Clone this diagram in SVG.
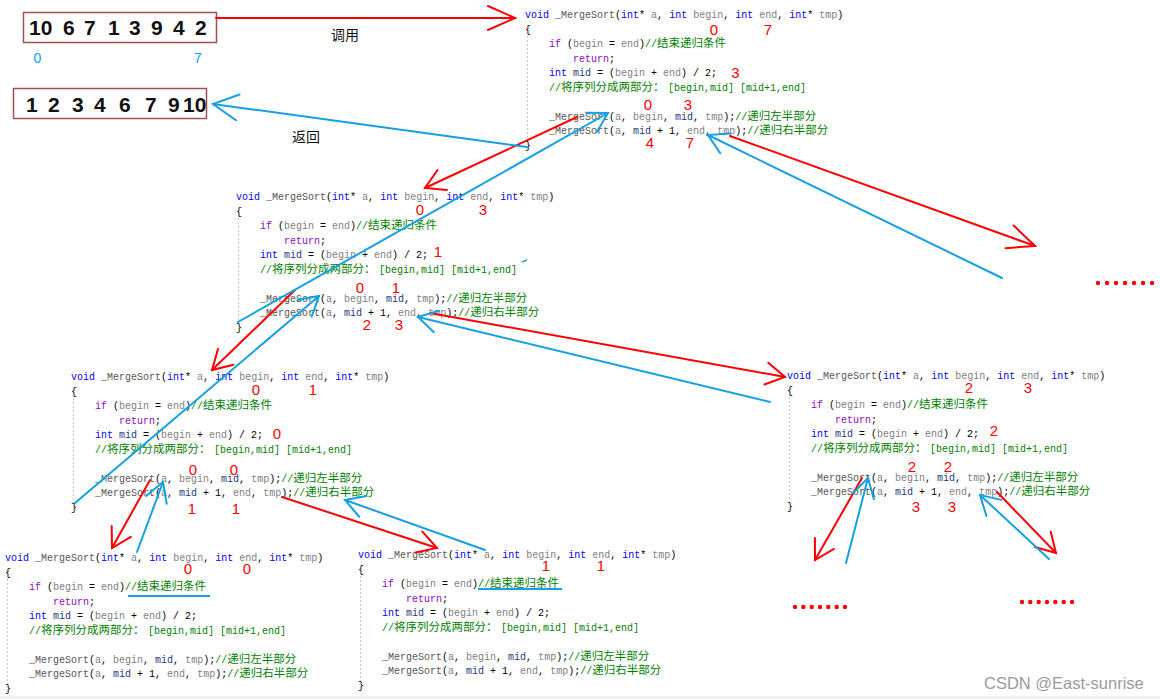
<svg xmlns="http://www.w3.org/2000/svg" width="1160" height="699" viewBox="0 0 1160 699">
<style>
.code{font-family:"Liberation Mono","Noto Sans CJK SC",monospace;font-size:10px;fill:#000}
.kw{fill:#0000ff}
.fn{fill:#555555}
.pm{fill:#808080}
.ctl{fill:#8f08c4}
.vr{fill:#1f377f}
.cm{fill:#008000}
.cj{font-family:"Noto Sans CJK SC",sans-serif;font-size:11.5px}
.num{font-family:"Liberation Sans",sans-serif;font-size:15px;fill:#ff0000;text-anchor:middle}
.guide{stroke:#c8c8c8;stroke-width:1;stroke-dasharray:2 2}
.ul{stroke:#14a0e6;stroke-width:2}
.red{stroke:#ff0000;stroke-width:2;fill:none;stroke-linecap:round;marker-end:url(#ar)}
.redL{stroke:#ff0000;stroke-width:2;fill:none;stroke-linecap:round;marker-end:url(#arL)}
.blue{stroke:#14a0e6;stroke-width:2;fill:none;stroke-linecap:round;marker-end:url(#ab)}
.blueL{stroke:#14a0e6;stroke-width:2;fill:none;stroke-linecap:round;marker-end:url(#abL)}
.arr{fill:#fff;stroke:#a0504f;stroke-width:1.5}
.dig{font-family:"Liberation Sans",sans-serif;font-size:21px;font-weight:bold;fill:#111}
.idx{font-family:"Liberation Sans",sans-serif;font-size:14px;fill:#14a0e6;text-anchor:middle}
.lbl{font-family:"Noto Sans CJK SC",sans-serif;font-size:14px;fill:#111}
.dot{fill:#ff0000}
</style>
<defs>
<marker id="ar" viewBox="-25 -15 30 30" refX="0" refY="0" markerWidth="30" markerHeight="30" markerUnits="userSpaceOnUse" orient="auto"><path d="M-19,-11 L0,0 L-19,11" fill="none" stroke="#ff0000" stroke-width="2" stroke-linecap="round"/></marker>
<marker id="arL" viewBox="-35 -20 40 40" refX="0" refY="0" markerWidth="40" markerHeight="40" markerUnits="userSpaceOnUse" orient="auto"><path d="M-27,-12 L0,0 L-27,12" fill="none" stroke="#ff0000" stroke-width="2" stroke-linecap="round"/></marker>
<marker id="ab" viewBox="-25 -15 30 30" refX="0" refY="0" markerWidth="30" markerHeight="30" markerUnits="userSpaceOnUse" orient="auto"><path d="M-19,-11 L0,0 L-19,11" fill="none" stroke="#14a0e6" stroke-width="2" stroke-linecap="round"/></marker>
<marker id="abL" viewBox="-35 -20 40 40" refX="0" refY="0" markerWidth="40" markerHeight="40" markerUnits="userSpaceOnUse" orient="auto"><path d="M-25,-13 L0,0 L-25,13" fill="none" stroke="#14a0e6" stroke-width="2" stroke-linecap="round"/></marker>
</defs>
<rect width="1160" height="699" fill="#ffffff"/>
<rect x="0" y="696" width="1160" height="3" fill="#f0f0f0"/>

<g id="array-input">
<rect class="arr" x="23.5" y="12.5" width="193" height="30"/>
<text class="dig" y="35"><tspan x="29">10</tspan><tspan x="63">6</tspan><tspan x="84">7</tspan><tspan x="108">1</tspan><tspan x="129">3</tspan><tspan x="151">9</tspan><tspan x="173">4</tspan><tspan x="195">2</tspan></text>
<text class="idx" x="37.5" y="63">0</text>
<text class="idx" x="198" y="63">7</text>
</g>

<g id="array-output">
<rect class="arr" x="13.5" y="88.5" width="193" height="30"/>
<text class="dig" y="112"><tspan x="26">1</tspan><tspan x="48">2</tspan><tspan x="72">3</tspan><tspan x="94">4</tspan><tspan x="119">6</tspan><tspan x="145">7</tspan><tspan x="168">9</tspan><tspan x="183">10</tspan></text>
</g>

<g id="block-0-7" transform="translate(525,18)">
<line class="guide" x1="2.5" y1="18" x2="2.5" y2="124"/>
<text class="code" x="0" y="0"><tspan class="kw">void</tspan> <tspan class="fn">_MergeSort</tspan>(<tspan class="kw">int</tspan>* <tspan class="pm">a</tspan>, <tspan class="kw">int</tspan> <tspan class="pm">begin</tspan>, <tspan class="kw">int</tspan> <tspan class="pm">end</tspan>, <tspan class="kw">int</tspan>* <tspan class="pm">tmp</tspan>)</text>
<text class="code" x="0" y="14.5">{</text>
<text class="code" x="24" y="29"><tspan class="ctl">if</tspan> (<tspan class="pm">begin</tspan> = <tspan class="pm">end</tspan>)<tspan class="cm">//<tspan class="cj">结束递归条件</tspan></tspan></text>
<text class="code" x="48" y="43.5"><tspan class="ctl">return</tspan>;</text>
<text class="code" x="24" y="58"><tspan class="kw">int</tspan> <tspan class="vr">mid</tspan> = (<tspan class="pm">begin</tspan> + <tspan class="pm">end</tspan>) / 2;</text>
<text class="code cm" x="24" y="72.5">//<tspan class="cj">将序列分成两部分：</tspan><tspan x="143">[begin,mid] [mid+1,end]</tspan></text>
<text class="code" x="24" y="101.5"><tspan class="fn">_MergeSort</tspan>(<tspan class="pm">a</tspan>, <tspan class="pm">begin</tspan>, <tspan class="vr">mid</tspan>, <tspan class="pm">tmp</tspan>);<tspan class="cm">//<tspan class="cj">递归左半部分</tspan></tspan></text>
<text class="code" x="24" y="116"><tspan class="fn">_MergeSort</tspan>(<tspan class="pm">a</tspan>, <tspan class="vr">mid</tspan> + 1, <tspan class="pm">end</tspan>, <tspan class="pm">tmp</tspan>);<tspan class="cm">//<tspan class="cj">递归右半部分</tspan></tspan></text>
<text class="code" x="0" y="130.5">}</text>
<text class="num" x="189" y="17">0</text>
<text class="num" x="243" y="17">7</text>
<text class="num" x="210.5" y="60">3</text>
<text class="num" x="123" y="92">0</text>
<text class="num" x="163" y="92">3</text>
<text class="num" x="125" y="130">4</text>
<text class="num" x="165" y="130">7</text>
</g>

<g id="block-0-3" transform="translate(236,200)">
<line class="guide" x1="2.5" y1="18" x2="2.5" y2="124"/>
<text class="code" x="0" y="0"><tspan class="kw">void</tspan> <tspan class="fn">_MergeSort</tspan>(<tspan class="kw">int</tspan>* <tspan class="pm">a</tspan>, <tspan class="kw">int</tspan> <tspan class="pm">begin</tspan>, <tspan class="kw">int</tspan> <tspan class="pm">end</tspan>, <tspan class="kw">int</tspan>* <tspan class="pm">tmp</tspan>)</text>
<text class="code" x="0" y="14.5">{</text>
<text class="code" x="24" y="29"><tspan class="ctl">if</tspan> (<tspan class="pm">begin</tspan> = <tspan class="pm">end</tspan>)<tspan class="cm">//<tspan class="cj">结束递归条件</tspan></tspan></text>
<text class="code" x="48" y="43.5"><tspan class="ctl">return</tspan>;</text>
<text class="code" x="24" y="58"><tspan class="kw">int</tspan> <tspan class="vr">mid</tspan> = (<tspan class="pm">begin</tspan> + <tspan class="pm">end</tspan>) / 2;</text>
<text class="code cm" x="24" y="72.5">//<tspan class="cj">将序列分成两部分：</tspan><tspan x="143">[begin,mid] [mid+1,end]</tspan></text>
<text class="code" x="24" y="101.5"><tspan class="fn">_MergeSort</tspan>(<tspan class="pm">a</tspan>, <tspan class="pm">begin</tspan>, <tspan class="vr">mid</tspan>, <tspan class="pm">tmp</tspan>);<tspan class="cm">//<tspan class="cj">递归左半部分</tspan></tspan></text>
<text class="code" x="24" y="116"><tspan class="fn">_MergeSort</tspan>(<tspan class="pm">a</tspan>, <tspan class="vr">mid</tspan> + 1, <tspan class="pm">end</tspan>, <tspan class="pm">tmp</tspan>);<tspan class="cm">//<tspan class="cj">递归右半部分</tspan></tspan></text>
<text class="code" x="0" y="130.5">}</text>
<text class="num" x="184" y="15">0</text>
<text class="num" x="247" y="15">3</text>
<text class="num" x="202" y="57">1</text>
<text class="num" x="124" y="93">0</text>
<text class="num" x="160" y="93">1</text>
<text class="num" x="131" y="130">2</text>
<text class="num" x="163" y="130">3</text>
<path d="M286,62 L291,60" stroke="#14a0e6" stroke-width="1.5" fill="none"/>
</g>

<g id="block-0-1" transform="translate(71,380)">
<line class="guide" x1="2.5" y1="18" x2="2.5" y2="124"/>
<text class="code" x="0" y="0"><tspan class="kw">void</tspan> <tspan class="fn">_MergeSort</tspan>(<tspan class="kw">int</tspan>* <tspan class="pm">a</tspan>, <tspan class="kw">int</tspan> <tspan class="pm">begin</tspan>, <tspan class="kw">int</tspan> <tspan class="pm">end</tspan>, <tspan class="kw">int</tspan>* <tspan class="pm">tmp</tspan>)</text>
<text class="code" x="0" y="14.5">{</text>
<text class="code" x="24" y="29"><tspan class="ctl">if</tspan> (<tspan class="pm">begin</tspan> = <tspan class="pm">end</tspan>)<tspan class="cm">//<tspan class="cj">结束递归条件</tspan></tspan></text>
<text class="code" x="48" y="43.5"><tspan class="ctl">return</tspan>;</text>
<text class="code" x="24" y="58"><tspan class="kw">int</tspan> <tspan class="vr">mid</tspan> = (<tspan class="pm">begin</tspan> + <tspan class="pm">end</tspan>) / 2;</text>
<text class="code cm" x="24" y="72.5">//<tspan class="cj">将序列分成两部分：</tspan><tspan x="143">[begin,mid] [mid+1,end]</tspan></text>
<text class="code" x="24" y="101.5"><tspan class="fn">_MergeSort</tspan>(<tspan class="pm">a</tspan>, <tspan class="pm">begin</tspan>, <tspan class="vr">mid</tspan>, <tspan class="pm">tmp</tspan>);<tspan class="cm">//<tspan class="cj">递归左半部分</tspan></tspan></text>
<text class="code" x="24" y="116"><tspan class="fn">_MergeSort</tspan>(<tspan class="pm">a</tspan>, <tspan class="vr">mid</tspan> + 1, <tspan class="pm">end</tspan>, <tspan class="pm">tmp</tspan>);<tspan class="cm">//<tspan class="cj">递归右半部分</tspan></tspan></text>
<text class="code" x="0" y="130.5">}</text>
<text class="num" x="185" y="15">0</text>
<text class="num" x="242" y="15">1</text>
<text class="num" x="206" y="59">0</text>
<text class="num" x="122" y="95">0</text>
<text class="num" x="163" y="95">0</text>
<text class="num" x="121" y="134">1</text>
<text class="num" x="165" y="134">1</text>
</g>

<g id="block-2-3" transform="translate(787,379)">
<line class="guide" x1="2.5" y1="18" x2="2.5" y2="124"/>
<text class="code" x="0" y="0"><tspan class="kw">void</tspan> <tspan class="fn">_MergeSort</tspan>(<tspan class="kw">int</tspan>* <tspan class="pm">a</tspan>, <tspan class="kw">int</tspan> <tspan class="pm">begin</tspan>, <tspan class="kw">int</tspan> <tspan class="pm">end</tspan>, <tspan class="kw">int</tspan>* <tspan class="pm">tmp</tspan>)</text>
<text class="code" x="0" y="14.5">{</text>
<text class="code" x="24" y="29"><tspan class="ctl">if</tspan> (<tspan class="pm">begin</tspan> = <tspan class="pm">end</tspan>)<tspan class="cm">//<tspan class="cj">结束递归条件</tspan></tspan></text>
<text class="code" x="48" y="43.5"><tspan class="ctl">return</tspan>;</text>
<text class="code" x="24" y="58"><tspan class="kw">int</tspan> <tspan class="vr">mid</tspan> = (<tspan class="pm">begin</tspan> + <tspan class="pm">end</tspan>) / 2;</text>
<text class="code cm" x="24" y="72.5">//<tspan class="cj">将序列分成两部分：</tspan><tspan x="143">[begin,mid] [mid+1,end]</tspan></text>
<text class="code" x="24" y="101.5"><tspan class="fn">_MergeSort</tspan>(<tspan class="pm">a</tspan>, <tspan class="pm">begin</tspan>, <tspan class="vr">mid</tspan>, <tspan class="pm">tmp</tspan>);<tspan class="cm">//<tspan class="cj">递归左半部分</tspan></tspan></text>
<text class="code" x="24" y="116"><tspan class="fn">_MergeSort</tspan>(<tspan class="pm">a</tspan>, <tspan class="vr">mid</tspan> + 1, <tspan class="pm">end</tspan>, <tspan class="pm">tmp</tspan>);<tspan class="cm">//<tspan class="cj">递归右半部分</tspan></tspan></text>
<text class="code" x="0" y="130.5">}</text>
<text class="num" x="182" y="14">2</text>
<text class="num" x="241" y="14">3</text>
<text class="num" x="207" y="57">2</text>
<text class="num" x="125" y="93">2</text>
<text class="num" x="161" y="93">2</text>
<text class="num" x="129" y="133">3</text>
<text class="num" x="165" y="133">3</text>
</g>

<g id="block-0-0" transform="translate(5,561)">
<line class="guide" x1="2.5" y1="18" x2="2.5" y2="124"/>
<text class="code" x="0" y="0"><tspan class="kw">void</tspan> <tspan class="fn">_MergeSort</tspan>(<tspan class="kw">int</tspan>* <tspan class="pm">a</tspan>, <tspan class="kw">int</tspan> <tspan class="pm">begin</tspan>, <tspan class="kw">int</tspan> <tspan class="pm">end</tspan>, <tspan class="kw">int</tspan>* <tspan class="pm">tmp</tspan>)</text>
<text class="code" x="0" y="14.5">{</text>
<text class="code" x="24" y="29"><tspan class="ctl">if</tspan> (<tspan class="pm">begin</tspan> = <tspan class="pm">end</tspan>)<tspan class="cm">//<tspan class="cj">结束递归条件</tspan></tspan></text>
<text class="code" x="48" y="43.5"><tspan class="ctl">return</tspan>;</text>
<text class="code" x="24" y="58"><tspan class="kw">int</tspan> <tspan class="vr">mid</tspan> = (<tspan class="pm">begin</tspan> + <tspan class="pm">end</tspan>) / 2;</text>
<text class="code cm" x="24" y="72.5">//<tspan class="cj">将序列分成两部分：</tspan><tspan x="143">[begin,mid] [mid+1,end]</tspan></text>
<text class="code" x="24" y="101.5"><tspan class="fn">_MergeSort</tspan>(<tspan class="pm">a</tspan>, <tspan class="pm">begin</tspan>, <tspan class="vr">mid</tspan>, <tspan class="pm">tmp</tspan>);<tspan class="cm">//<tspan class="cj">递归左半部分</tspan></tspan></text>
<text class="code" x="24" y="116"><tspan class="fn">_MergeSort</tspan>(<tspan class="pm">a</tspan>, <tspan class="vr">mid</tspan> + 1, <tspan class="pm">end</tspan>, <tspan class="pm">tmp</tspan>);<tspan class="cm">//<tspan class="cj">递归右半部分</tspan></tspan></text>
<text class="code" x="0" y="130.5">}</text>
<text class="num" x="183" y="13">0</text>
<text class="num" x="242" y="13">0</text>
<line class="ul" x1="123" y1="35" x2="205" y2="35"/>
</g>

<g id="block-1-1" transform="translate(358,558)">
<line class="guide" x1="2.5" y1="18" x2="2.5" y2="124"/>
<text class="code" x="0" y="0"><tspan class="kw">void</tspan> <tspan class="fn">_MergeSort</tspan>(<tspan class="kw">int</tspan>* <tspan class="pm">a</tspan>, <tspan class="kw">int</tspan> <tspan class="pm">begin</tspan>, <tspan class="kw">int</tspan> <tspan class="pm">end</tspan>, <tspan class="kw">int</tspan>* <tspan class="pm">tmp</tspan>)</text>
<text class="code" x="0" y="14.5">{</text>
<text class="code" x="24" y="29"><tspan class="ctl">if</tspan> (<tspan class="pm">begin</tspan> = <tspan class="pm">end</tspan>)<tspan class="cm">//<tspan class="cj">结束递归条件</tspan></tspan></text>
<text class="code" x="48" y="43.5"><tspan class="ctl">return</tspan>;</text>
<text class="code" x="24" y="58"><tspan class="kw">int</tspan> <tspan class="vr">mid</tspan> = (<tspan class="pm">begin</tspan> + <tspan class="pm">end</tspan>) / 2;</text>
<text class="code cm" x="24" y="72.5">//<tspan class="cj">将序列分成两部分：</tspan><tspan x="143">[begin,mid] [mid+1,end]</tspan></text>
<text class="code" x="24" y="101.5"><tspan class="fn">_MergeSort</tspan>(<tspan class="pm">a</tspan>, <tspan class="pm">begin</tspan>, <tspan class="vr">mid</tspan>, <tspan class="pm">tmp</tspan>);<tspan class="cm">//<tspan class="cj">递归左半部分</tspan></tspan></text>
<text class="code" x="24" y="116"><tspan class="fn">_MergeSort</tspan>(<tspan class="pm">a</tspan>, <tspan class="vr">mid</tspan> + 1, <tspan class="pm">end</tspan>, <tspan class="pm">tmp</tspan>);<tspan class="cm">//<tspan class="cj">递归右半部分</tspan></tspan></text>
<text class="code" x="0" y="130.5">}</text>
<text class="num" x="188" y="13">1</text>
<text class="num" x="243" y="13">1</text>
<line class="ul" x1="120" y1="31" x2="204" y2="31"/>
</g>

<g id="labels">
<text class="lbl" x="331" y="40">调用</text>
<text class="lbl" x="292" y="142">返回</text>
</g>

<g id="connectors">
<line class="redL" x1="216" y1="18" x2="515" y2="18"/>
<line class="red" x1="577" y1="117" x2="425" y2="188"/>
<line class="redL" x1="730" y1="136" x2="1035" y2="246"/>
<line class="red" x1="295" y1="290" x2="212" y2="370"/>
<line class="red" x1="430" y1="313" x2="785" y2="377"/>
<line class="red" x1="150" y1="480" x2="112" y2="548"/>
<line class="red" x1="282" y1="497" x2="437" y2="548"/>
<line class="red" x1="862" y1="478" x2="815" y2="560"/>
<line class="red" x1="997" y1="492" x2="1056" y2="553"/>
<line class="blueL" x1="527" y1="147" x2="213" y2="104"/>
<line class="blue" x1="238" y1="322" x2="608" y2="113"/>
<line class="blue" x1="1002" y1="278" x2="708" y2="135"/>
<line class="blue" x1="75" y1="503" x2="319" y2="296"/>
<line class="blue" x1="770" y1="402" x2="418" y2="317"/>
<line class="blue" x1="137" y1="552" x2="163" y2="482"/>
<line class="blue" x1="485" y1="550" x2="345" y2="500"/>
<line class="blue" x1="846" y1="563" x2="868" y2="478"/>
<line class="blue" x1="1049" y1="559" x2="980" y2="495"/>
</g>

<g id="ellipsis-right">
<circle class="dot" cx="1098" cy="283" r="2.2"/><circle class="dot" cx="1107" cy="283" r="2.2"/><circle class="dot" cx="1116" cy="283" r="2.2"/><circle class="dot" cx="1125" cy="283" r="2.2"/><circle class="dot" cx="1134" cy="283" r="2.2"/><circle class="dot" cx="1143" cy="283" r="2.2"/><circle class="dot" cx="1152" cy="283" r="2.2"/>
</g>
<g id="ellipsis-bottom-left">
<circle class="dot" cx="795" cy="607" r="2.2"/><circle class="dot" cx="803.3" cy="607" r="2.2"/><circle class="dot" cx="811.7" cy="607" r="2.2"/><circle class="dot" cx="820" cy="607" r="2.2"/><circle class="dot" cx="828.3" cy="607" r="2.2"/><circle class="dot" cx="836.7" cy="607" r="2.2"/><circle class="dot" cx="845" cy="607" r="2.2"/>
</g>
<g id="ellipsis-bottom-right">
<circle class="dot" cx="1022" cy="602" r="2.2"/><circle class="dot" cx="1030.3" cy="602" r="2.2"/><circle class="dot" cx="1038.7" cy="602" r="2.2"/><circle class="dot" cx="1047" cy="602" r="2.2"/><circle class="dot" cx="1055.3" cy="602" r="2.2"/><circle class="dot" cx="1063.7" cy="602" r="2.2"/><circle class="dot" cx="1072" cy="602" r="2.2"/>
</g>

<text x="984" y="689" font-family="Liberation Sans, sans-serif" font-size="16.5" fill="#9a9a9a">CSDN @East-sunrise</text>
</svg>
